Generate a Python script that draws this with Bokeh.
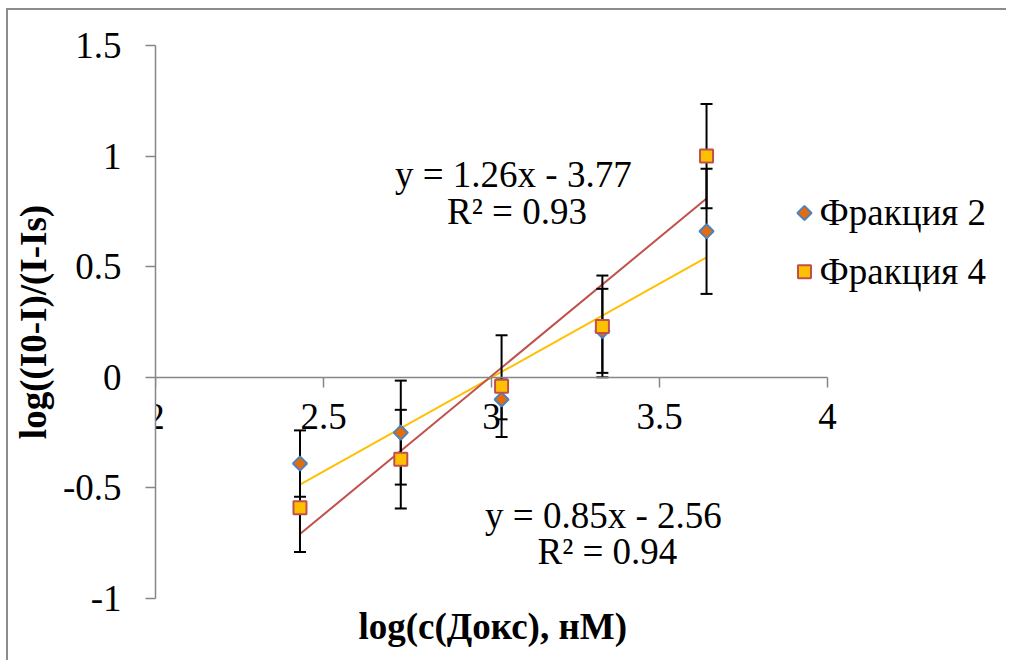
import numpy as np
from bokeh.plotting import figure
from bokeh.models import Range1d, FixedTicker, Title, Label, ColumnDataSource
from bokeh.core.properties import value
from bokeh.embed import file_html
from bokeh.resources import INLINE

# ---------------- data ----------------
log_c = [2.43, 2.73, 3.03, 3.33, 3.64]
frac2_y = [-0.39, -0.25, -0.10, 0.21, 0.66]
frac2_err = [0.15, 0.235, 0.09, 0.19, 0.283]
frac4_y = [-0.59, -0.37, -0.04, 0.23, 1.00]
frac4_err = [0.20, 0.223, 0.23, 0.23, 0.236]
series_names = ["Фракция 2", "Фракция 4"]
eq_frac2 = ["y = 0.85x - 2.56", "R² = 0.94"]
eq_frac4 = ["y = 1.26x - 3.77", "R² = 0.93"]
x_ticks = [2, 2.5, 3, 3.5, 4]
x_tick_labels = ["2", "2.5", "3", "3.5", "4"]
y_ticks = [-1, -0.5, 0, 0.5, 1, 1.5]
y_tick_labels = ["-1", "-0.5", "0", "0.5", "1", "1.5"]
x_title = "log(c(Докс), нМ)"
y_title = "log((I0-I)/(I-Is)"

FONT = "Liberation Serif"
FS = "37px"
AXIS_GRAY = "#868686"
C2_FILL, C2_LINE = "#E46C0A", "#4F81BD"
C4_FILL, C4_LINE = "#FFC000", "#C0504D"

W, H = 1000, 652
LEFT, RIGHT, TOP, BOTTOM = 147, 8, 35, 64
frame_w = W - LEFT - RIGHT
# frame: x 2..4 spans 336 px per unit; extra room on the right hosts the legend
p = figure(width=W, height=H, output_backend="svg", toolbar_location=None,
           x_range=Range1d(2, 2 + frame_w / 336), y_range=Range1d(-1, 1.5),
           min_border_left=LEFT, min_border_right=RIGHT, min_border_top=TOP,
           min_border_bottom=BOTTOM)
p.styles = {"border-left": "2px solid #8c8c8c", "border-top": "2px solid #8c8c8c",
            "margin-left": "6px", "margin-top": "8px"}
p.outline_line_color = None
p.grid.visible = False
p.background_fill_color = "white"
p.border_fill_color = "white"

# x axis crossing at y = 0
xa = p.xaxis[0]
xa.fixed_location = 0
xa.bounds = (2, 4)
xa.ticker = FixedTicker(ticks=x_ticks)
xa.major_label_overrides = {t: l for t, l in zip(x_ticks, x_tick_labels)}
ya = p.yaxis[0]
ya.ticker = FixedTicker(ticks=y_ticks)
ya.major_label_overrides = {t: l for t, l in zip(y_ticks, y_tick_labels)}
for ax in (xa, ya):
    ax.axis_line_color = AXIS_GRAY
    ax.axis_line_width = 1.5
    ax.major_tick_line_color = AXIS_GRAY
    ax.major_tick_line_width = 1.5
    ax.major_tick_in = 0
    ax.major_tick_out = 10
    ax.minor_tick_line_color = None
    ax.major_label_text_font = FONT
    ax.major_label_text_font_size = FS
    ax.major_label_text_color = "black"
xa.major_label_standoff = 17
ya.major_label_standoff = 24
ya.axis_label = y_title
ya.axis_label_text_font = FONT
ya.axis_label_text_font_size = FS
ya.axis_label_text_font_style = "bold"
ya.axis_label_text_color = "black"
ya.axis_label_standoff = 6

p.add_layout(Title(text=x_title, align="left", offset=203, text_font=FONT,
                   text_font_size=FS, text_font_style="bold", text_color="black"), "below")

# ---------------- trend lines ----------------
xs = np.array(log_c)
for ys, col in ((frac2_y, C4_FILL), (frac4_y, C4_LINE)):
    k, b = np.polyfit(xs, np.array(ys), 1)
    xl = np.array([xs.min(), xs.max()])
    p.line(xl, k * xl + b, line_color=col, line_width=2)

# ---------------- error bars ----------------
for ys, err in ((frac2_y, frac2_err), (frac4_y, frac4_err)):
    y = np.array(ys); e = np.array(err)
    src = ColumnDataSource(dict(x=xs, lo=y - e, hi=y + e))
    p.segment(x0="x", y0="lo", x1="x", y1="hi", source=src, line_color="black", line_width=2)
    p.scatter(x="x", y="lo", source=src, marker="dash", size=12, line_color="black", line_width=2)
    p.scatter(x="x", y="hi", source=src, marker="dash", size=12, line_color="black", line_width=2)

# ---------------- markers ----------------
M2 = dict(marker="square", angle=np.pi / 4, size=10, fill_color=C2_FILL,
          line_color=C2_LINE, line_width=2)
M4 = dict(marker="square", size=13, fill_color=C4_FILL, line_color=C4_LINE, line_width=2)
p.scatter(xs, frac2_y, **M2)
p.scatter(xs, frac4_y, **M4)

# ---------------- legend (drawn inside the extended frame) ----------------
leg_x, leg_y = 3.9315, [0.743, 0.477]
p.scatter([leg_x], [leg_y[0]], **M2)
p.scatter([leg_x], [leg_y[1]], **M4)
p.text(x=[leg_x + 0.045] * 2, y=leg_y, text=series_names, text_align="left",
       text_baseline="middle", text_font=value(FONT), text_font_size=FS, text_color="black")

# ---------------- equations ----------------
for txt, x, y in ((eq_frac4[0], 3.065, 0.918), (eq_frac4[1], 3.076, 0.748),
                  (eq_frac2[0], 3.333, -0.624), (eq_frac2[1], 3.345, -0.786)):
    p.add_layout(Label(x=x, y=y, text=txt, text_align="center", text_baseline="middle",
                       text_font=FONT, text_font_size=FS, text_color="black"))

open("out.html", "w").write(file_html(p, INLINE))
